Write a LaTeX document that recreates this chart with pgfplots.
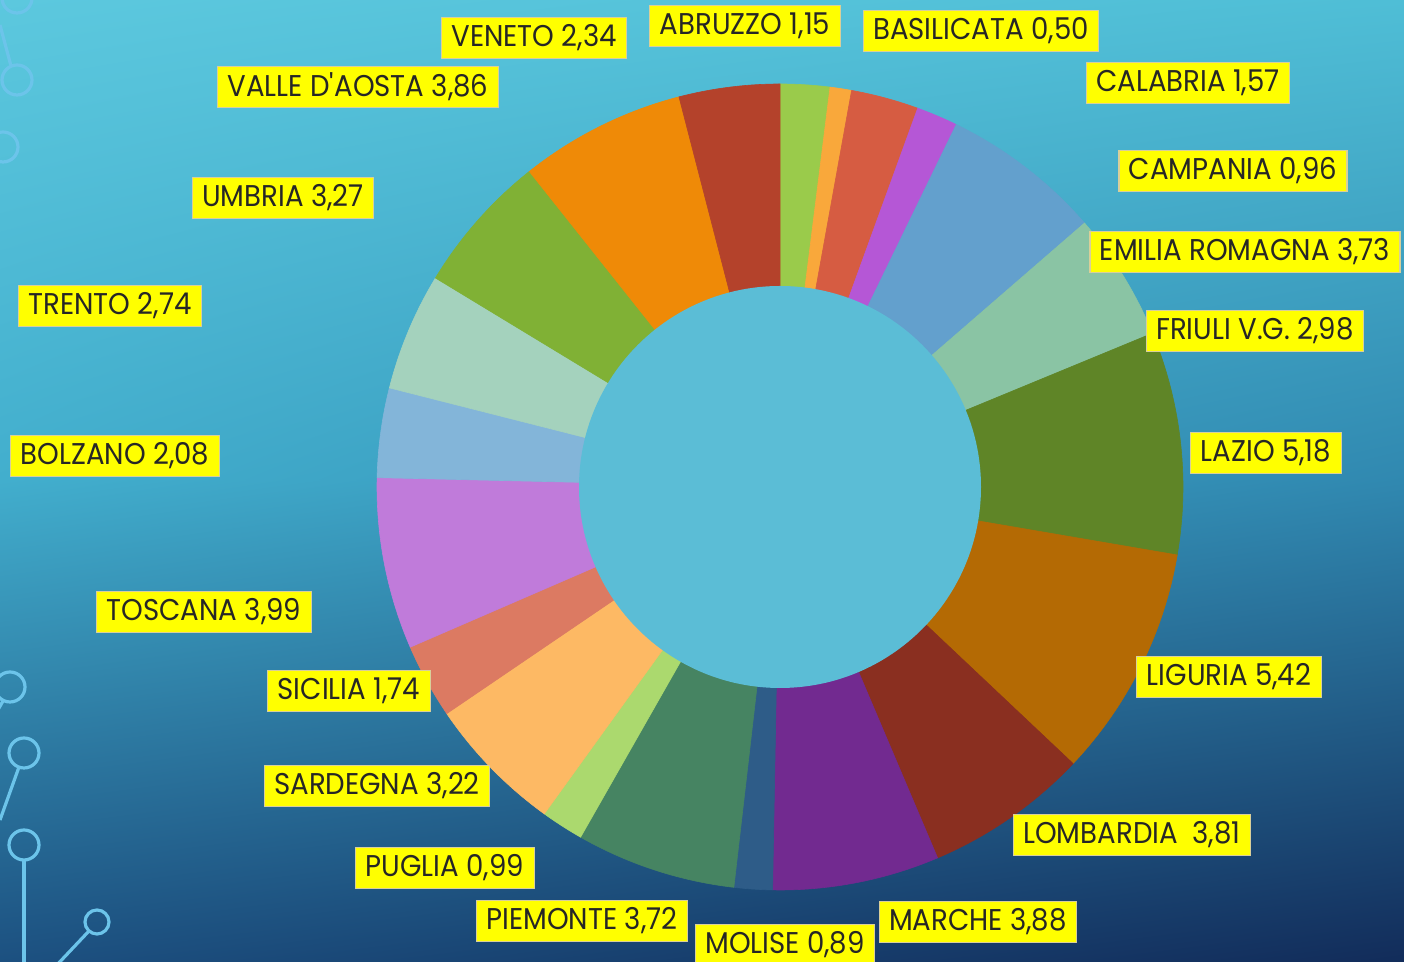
\documentclass[border=0pt]{standalone}
\usepackage{pgfplots}
\pgfplotsset{compat=1.18}
\usepackage{pgfplotstable}
\usetikzlibrary{shadings}
\usepackage{fontspec}
\setmainfont{Poppins}[FakeStretch=0.92]

% slice colours, clockwise from 12 o'clock
\definecolor{c0}{HTML}{9ACB4B}
\definecolor{c1}{HTML}{F9A83B}
\definecolor{c2}{HTML}{D65C42}
\definecolor{c3}{HTML}{B557D6}
\definecolor{c4}{HTML}{63A0CD}
\definecolor{c5}{HTML}{8AC4A4}
\definecolor{c6}{HTML}{5F8527}
\definecolor{c7}{HTML}{B46A04}
\definecolor{c8}{HTML}{8A2F20}
\definecolor{c9}{HTML}{722A90}
\definecolor{c10}{HTML}{2E5C88}
\definecolor{c11}{HTML}{468462}
\definecolor{c12}{HTML}{ABD96E}
\definecolor{c13}{HTML}{FDB964}
\definecolor{c14}{HTML}{DC7A62}
\definecolor{c15}{HTML}{C07BDA}
\definecolor{c16}{HTML}{83B5D9}
\definecolor{c17}{HTML}{A4D2BD}
\definecolor{c18}{HTML}{80B135}
\definecolor{c19}{HTML}{EF8A07}
\definecolor{c20}{HTML}{B4422B}
\definecolor{hole}{HTML}{5BBDD6}
\definecolor{circuit}{HTML}{6CC4EA}
\definecolor{labelbg}{HTML}{FFFF00}
\definecolor{labeledge}{HTML}{D9CF9A}
\definecolor{bgTL}{HTML}{5CC8DE}
\definecolor{bgTR}{HTML}{4FBED6}
\definecolor{bgML}{HTML}{42AECD}
\definecolor{bgMR}{HTML}{3088B0}
\definecolor{bgBL}{HTML}{1C5080}
\definecolor{bgBR}{HTML}{122C5A}

% value, label text, label centre (pixels from top left)
\pgfplotstableread[col sep=semicolon]{
value;label;lx;ly
1.15;ABRUZZO 1,15;745;26
0.50;BASILICATA 0,50;981;31
1.57;CALABRIA 1,57;1188;83
0.96;CAMPANIA 0,96;1233;171
3.73;EMILIA ROMAGNA 3,73;1245;252
2.98;FRIULI V.G. 2,98;1255;331
5.18;LAZIO 5,18;1266;453
5.42;LIGURIA 5,42;1229;677
3.81;LOMBARDIA~~3,81;1132;835
3.88;MARCHE 3,88;978;922
0.89;MOLISE 0,89;785;945
3.72;PIEMONTE 3,72;582;921
0.99;PUGLIA 0,99;445;868
3.22;SARDEGNA 3,22;377;786
1.74;SICILIA 1,74;349;691
3.99;TOSCANA 3,99;204;612
2.08;BOLZANO 2,08;115;456
2.74;TRENTO 2,74;110;306
3.27;UMBRIA 3,27;283;198
3.86;VALLE D\textquotesingle AOSTA 3,86;358;87
2.34;VENETO 2,34;534;38
}\regions

\begin{document}
\begin{tikzpicture}
\clip (0,0) rectangle (702pt,481pt);
% background
\shade[upper left=bgTL, upper right=bgTR, lower left=bgML, lower right=bgMR]
  (0,240.5pt) rectangle (702pt,481pt);
\shade[upper left=bgML, upper right=bgMR, lower left=bgBL, lower right=bgBR]
  (0,0) rectangle (702pt,240.6pt);
\begin{axis}[
    at={(0,0)}, anchor=south west,
    width=702pt, height=481pt, scale only axis,
    xmin=0, xmax=1404, ymin=0, ymax=962,
    hide axis, clip=false,
]
\pgfmathsetmacro\total{58.02}
\def\cum{0}
\pgfplotsforeachungrouped \i in {0,...,20}{
    \pgfplotstablegetelem{\i}{value}\of\regions
    \let\v\pgfplotsretval
    \pgfmathsetmacro\a{90-\cum/\total*360}
    \pgfmathsetmacro\cum{\cum+\v}
    \pgfmathsetmacro\b{90-\cum/\total*360}
    \edef\temp{\noexpand\addplot[fill=c\i, draw=c\i, line width=0.3pt,
        domain=\b:\a, samples=40]
        ({780+403*cos(x)},{475+403*sin(x)}) -- (780,475) -- cycle;}
    \temp
}
\fill[hole] (780,475) circle[radius=201];

% circuit decoration
\begin{scope}[circuit, line width=1.6pt]
  \draw (17,962-80) circle[radius=15];
  \draw (0,962-25) -- (11,962-66);
  \draw (17,962+2) circle[radius=15];
  \draw (3,962-147) circle[radius=15];
  \draw (10,962-687) circle[radius=15];
  \draw (3,962-701) -- (-5,962-715);
  \draw (24,962-753) circle[radius=15];
  \draw (19,962-767) -- (0,962-820);
  \draw (24,962-845) circle[radius=15];
  \draw (24,962-860) -- (24,-5);
  \draw (97,962-922) circle[radius=12];
  \draw (89,962-931) -- (55,-5);
\end{scope}

% labels
\pgfplotsforeachungrouped \i in {0,...,20}{
    \pgfplotstablegetelem{\i}{label}\of\regions \let\lab\pgfplotsretval
    \pgfplotstablegetelem{\i}{lx}\of\regions \let\lx\pgfplotsretval
    \pgfplotstablegetelem{\i}{ly}\of\regions \let\ly\pgfplotsretval
    \edef\temp{\noexpand\node[fill=labelbg, draw=labeledge, line width=0.6pt,
        inner xsep=5pt, inner ysep=0pt, minimum height=20.5pt,
        font=\noexpand\fontsize{15}{16}\noexpand\selectfont, text=black!85]
        at (\lx,962-\ly) {\unexpanded\expandafter{\lab}};}
    \temp
}
\end{axis}
\end{tikzpicture}
\end{document}
